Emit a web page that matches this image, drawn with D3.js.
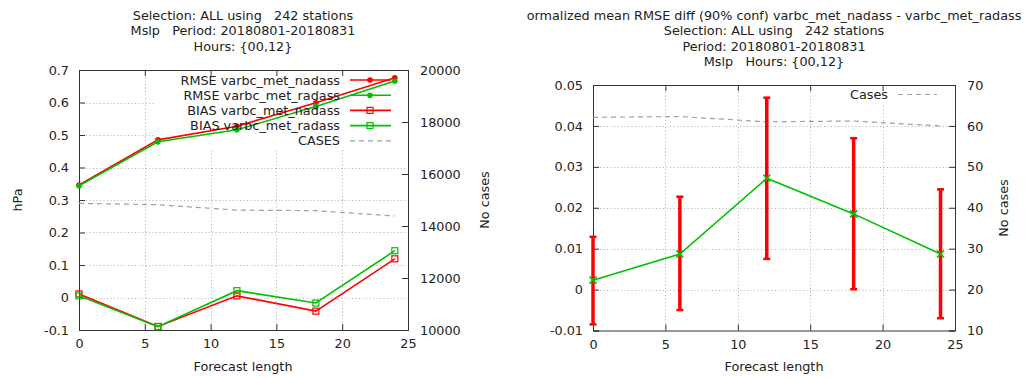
<!DOCTYPE html>
<html><head><meta charset="utf-8">
<script src="https://cdn.jsdelivr.net/npm/d3@7"></script>
<style>
body{margin:0;background:#fff;}
svg text{font-family:"DejaVu Sans",sans-serif;font-size:12.8px;fill:#222;white-space:pre;}
</style></head>
<body>
<svg id="chart" width="1031" height="378"></svg>
<script>
// ---- data ----
const leadTimes = [0, 6, 12, 18, 24];
const rmseNadass = [0.346, 0.485, 0.527, 0.599, 0.676];
const rmseRadass = [0.344, 0.479, 0.516, 0.588, 0.666];
const biasNadass = [0.011, -0.089, 0.005, -0.042, 0.119];
const biasRadass = [0.005, -0.090, 0.021, -0.017, 0.144];
const casesLeft = [14870, 14820, 14610, 14590, 14385];

const diffMean = [0.0023, 0.0087, 0.0272, 0.0185, 0.0087];
const diffLow = [-0.0085, -0.0050, 0.0075, 0.0001, -0.0070];
const diffHigh = [0.0129, 0.0227, 0.0469, 0.0370, 0.0245];
const casesRight = [62.1, 62.3, 61.0, 61.2, 60.0];

const xTicks = [0, 5, 10, 15, 20, 25];
const leftYTicks = [-0.1, 0, 0.1, 0.2, 0.3, 0.4, 0.5, 0.6, 0.7];
const leftY2Ticks = [10000, 12000, 14000, 16000, 18000, 20000];
const rightYTicks = [-0.01, 0, 0.01, 0.02, 0.03, 0.04, 0.05];
const rightY2Ticks = [10, 20, 30, 40, 50, 60, 70];

const leftTitle = ["Selection: ALL using   242 stations", "Mslp   Period: 20180801-20180831", "Hours: {00,12}"];
const rightTitle = ["ormalized mean RMSE diff (90% conf) varbc_met_nadass - varbc_met_radass", "Selection: ALL using   242 stations", "Period: 20180801-20180831", "Mslp   Hours: {00,12}"];
const leftKeys = ["RMSE varbc_met_nadass", "RMSE varbc_met_radass", "BIAS varbc_met_nadass", "BIAS varbc_met_radass", "CASES"];

const RED = "#ff0000", GREEN = "#00c000", GREY = "#a0a0a0", BORDER = "#333";
const FS = 12.8;
const svg = d3.select("#chart");
const fmt = d => String(+d.toFixed(4));

function panel(o) {
  const g = svg.append("g");
  const x = d3.scaleLinear().domain([0, 25]).range([o.l, o.r]);
  const y = d3.scaleLinear().domain(o.yDom).range([o.b, o.t]);
  const y2 = d3.scaleLinear().domain(o.y2Dom).range([o.b, o.t]);
  // grid
  const grid = g.append("g").attr("stroke", "#b0b0b0").attr("stroke-width", 1).attr("stroke-dasharray", "1,2.5");
  grid.selectAll(".gx").data(xTicks.filter(t => t > 0 && t < 25)).join("line")
    .attr("x1", d => Math.round(x(d)) + 0.5).attr("x2", d => Math.round(x(d)) + 0.5).attr("y1", o.t).attr("y2", o.b);
  grid.selectAll(".gy").data(o.yTicks.filter(t => t > o.yDom[0] && t < o.yDom[1])).join("line")
    .attr("y1", d => Math.round(y(d)) + 0.5).attr("y2", d => Math.round(y(d)) + 0.5).attr("x1", o.l).attr("x2", o.r);
  // opaque key box
  g.append("rect").attr("x", o.key.x0).attr("y", o.t + 1).attr("width", o.r - o.key.x0 - 1).attr("height", o.key.y1 - o.t)
    .attr("fill", "#fff");
  // axes (inward ticks)
  const ax = g.append("g");
  ax.append("g").attr("transform", `translate(0,${o.b})`).call(d3.axisBottom(x).tickValues(xTicks).tickSize(-6).tickPadding(9).tickFormat(d3.format("d")));
  ax.append("g").attr("transform", `translate(0,${o.t})`).call(d3.axisTop(x).tickValues(xTicks).tickSize(-6).tickFormat(""));
  ax.append("g").attr("transform", `translate(${o.l},0)`).call(d3.axisLeft(y).tickValues(o.yTicks).tickSize(-6).tickPadding(10).tickFormat(fmt));
  ax.append("g").attr("transform", `translate(${o.r},0)`).call(d3.axisRight(y2).tickValues(o.y2Ticks).tickSize(-6).tickPadding(12).tickFormat(d3.format("d")));
  ax.selectAll(".domain").attr("stroke", BORDER).attr("stroke-width", 1);
  ax.selectAll(".tick line").attr("stroke", BORDER);
  ax.selectAll("text").attr("font-family", "DejaVu Sans").attr("font-size", FS).attr("fill", "#222");
  return {g, x, y, y2};
}

function titles(lines, cx, y0) {
  svg.append("g").selectAll("text").data(lines).join("text")
    .attr("x", cx).attr("y", (d, i) => y0 + i * 15.6).attr("text-anchor", "middle").text(d => d);
}

// ---------- LEFT ----------
const L = panel({l: 79, r: 408, t: 70, b: 330, yDom: [-0.1, 0.7], y2Dom: [10000, 20000],
  yTicks: leftYTicks, y2Ticks: leftY2Ticks, key: {x0: 156, y1: 148}});
titles(leftTitle, 243, 19.5);
svg.append("text").attr("transform", "translate(22,200) rotate(-90)").attr("text-anchor", "middle").text("hPa");
svg.append("text").attr("transform", "translate(489,200) rotate(-90)").attr("text-anchor", "middle").text("No cases");
svg.append("text").attr("x", 243).attr("y", 371).attr("text-anchor", "middle").text("Forecast length");

const lineL = vals => d3.line().x((d, i) => L.x(leadTimes[i])).y(d => L.y(d))(vals);
// cases
L.g.append("path").attr("d", d3.line().x((d, i) => L.x(leadTimes[i])).y(d => L.y2(d))(casesLeft))
  .attr("fill", "none").attr("stroke", GREY).attr("stroke-width", 1.2).attr("stroke-dasharray", "5,4");
const series = [
  {v: rmseNadass, c: RED, m: "circle"},
  {v: rmseRadass, c: GREEN, m: "circle"},
  {v: biasNadass, c: RED, m: "square"},
  {v: biasRadass, c: GREEN, m: "square"}
];
function marker(sel, m, c) {
  if (m === "circle") sel.append("circle").attr("r", 2.8).attr("fill", c);
  else sel.append("rect").attr("x", -3).attr("y", -3).attr("width", 6).attr("height", 6).attr("fill", "none").attr("stroke", c).attr("stroke-width", 1.2);
}
series.forEach(s => {
  L.g.append("path").attr("d", lineL(s.v)).attr("fill", "none").attr("stroke", s.c).attr("stroke-width", 1.6);
  s.v.forEach((d, i) => {
    const mg = L.g.append("g").attr("transform", `translate(${L.x(leadTimes[i])},${L.y(d)})`);
    marker(mg, s.m, s.c);
  });
});
// left legend
const keyG = svg.append("g");
leftKeys.forEach((k, i) => {
  const yy = 80 + i * 15.2;
  keyG.append("text").attr("x", 340).attr("y", yy + 4.5).attr("text-anchor", "end").text(k);
  if (i < 4) {
    keyG.append("line").attr("x1", 350).attr("x2", 391).attr("y1", yy).attr("y2", yy)
      .attr("stroke", series[i].c).attr("stroke-width", 1.6);
    marker(keyG.append("g").attr("transform", `translate(370,${yy})`), series[i].m, series[i].c);
  } else {
    keyG.append("line").attr("x1", 350).attr("x2", 391).attr("y1", yy).attr("y2", yy)
      .attr("stroke", GREY).attr("stroke-width", 1.2).attr("stroke-dasharray", "5,4");
  }
});

// ---------- RIGHT ----------
const R = panel({l: 593, r: 955, t: 85, b: 330.5, yDom: [-0.01, 0.05], y2Dom: [10, 70],
  yTicks: rightYTicks, y2Ticks: rightY2Ticks, key: {x0: 846, y1: 103}});
titles(rightTitle, 774, 19.5);
svg.append("text").attr("transform", "translate(1008,208) rotate(-90)").attr("text-anchor", "middle").text("No cases");
svg.append("text").attr("x", 774).attr("y", 371).attr("text-anchor", "middle").text("Forecast length");

R.g.append("path").attr("d", d3.line().x((d, i) => R.x(leadTimes[i])).y(d => R.y2(d))(casesRight))
  .attr("fill", "none").attr("stroke", GREY).attr("stroke-width", 1.2).attr("stroke-dasharray", "5,4");
// error bars
const eb = R.g.append("g").attr("stroke", RED).attr("stroke-width", 3.5);
leadTimes.forEach((t, i) => {
  const xx = R.x(t);
  eb.append("line").attr("x1", xx).attr("x2", xx).attr("y1", R.y(diffLow[i])).attr("y2", R.y(diffHigh[i]));
  eb.append("line").attr("x1", xx - 3.5).attr("x2", xx + 3.5).attr("y1", R.y(diffLow[i])).attr("y2", R.y(diffLow[i])).attr("stroke-width", 2.5);
  eb.append("line").attr("x1", xx - 3.5).attr("x2", xx + 3.5).attr("y1", R.y(diffHigh[i])).attr("y2", R.y(diffHigh[i])).attr("stroke-width", 2.5);
});
R.g.append("path").attr("d", d3.line().x((d, i) => R.x(leadTimes[i])).y(d => R.y(d))(diffMean))
  .attr("fill", "none").attr("stroke", GREEN).attr("stroke-width", 1.6);
diffMean.forEach((d, i) => {
  const xx = R.x(leadTimes[i]), yy = R.y(d);
  R.g.append("path").attr("d", `M${xx-3.5},${yy-3.5}L${xx+3.5},${yy+3.5}M${xx-3.5},${yy+3.5}L${xx+3.5},${yy-3.5}`)
    .attr("stroke", GREEN).attr("stroke-width", 1.6);
});
svg.append("text").attr("x", 888).attr("y", 98.5).attr("text-anchor", "end").text("Cases");
svg.append("line").attr("x1", 898).attr("x2", 937).attr("y1", 94.5).attr("y2", 94.5)
  .attr("stroke", GREY).attr("stroke-width", 1.2).attr("stroke-dasharray", "5,4");
</script>
</body></html>
